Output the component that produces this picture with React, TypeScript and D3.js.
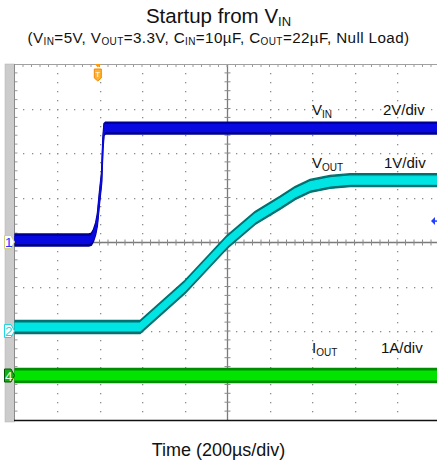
import React, { Component } from "react";
import * as d3 from "d3";

// scope capture, 200us/div, 10 x 8 divisions
const timeVin = [0, 350, 362, 372, 382, 390, 400, 410, 416, 421, 428, 2000];
const vin = [0.09, 0.09, 0.13, 0.3, 0.6, 1.0, 2.0, 2.9, 4.4, 5.05, 5.12, 5.12];
const timeVout = [0, 591, 802, 1000, 1132, 1249, 1320, 1391, 1485, 1579, 2000];
const vout = [0.09, 0.09, 0.99, 2.0, 2.54, 2.88, 3.1, 3.26, 3.35, 3.39, 3.39];
const timeIout = [0, 2000];
const iout = [0, 0];

const channels = [
	{ id: "1", t: timeVin, v: vin, perDiv: 2, offset: 0, half: 5, core: "#0808e0", edge: "#000090", tagText: "#2030ff", tagFill: "#ffffff", tagStroke: "#d0d080" },
	{ id: "2", t: timeVout, v: vout, perDiv: 1, offset: -2, half: 5.5, core: "#00e4e4", edge: "#007070", tagText: "#20d8e0", tagFill: "#ffffff", tagStroke: "#20d8e0" },
	{ id: "4", t: timeIout, v: iout, perDiv: 1, offset: -3, half: 6, core: "#00e400", edge: "#008c00", tagText: "#e8ffe8", tagFill: "#10b010", tagStroke: "#005800" },
];

const W = 437;
const H = 468;

class App extends Component {
	componentDidMount() {
		const svg = d3.select("#scope");
		svg.selectAll("*").remove();

		const x = d3.scaleLinear().domain([0, 2000]).range([14.5, 439.5]);
		const yDiv = d3.scaleLinear().domain([-4, 4]).range([420, 64]);
		const font = "'Liberation Sans', Arial, sans-serif";

		// left gray strip
		svg.append("rect").attr("x", 5).attr("y", 64).attr("width", 9.5).attr("height", 358).attr("fill", "#cccccc").attr("stroke", "#b0b0b0").attr("stroke-width", 0.5);

		const grid = svg.append("g");
		const dotColor = "#8c8c8c";
		// dotted verticals
		for (let i = 1; i < 10; i++) {
			if (i === 5) continue;
			const gx = Math.round(x(i * 200));
			for (let k = -19; k < 20; k++) {
				grid.append("rect").attr("x", gx).attr("y", Math.round(yDiv(k / 5))).attr("width", 1.3).attr("height", 1.3).attr("fill", dotColor);
			}
		}
		// dotted horizontals
		for (let j = -3; j <= 3; j++) {
			if (j === 0) continue;
			const gy = Math.round(yDiv(j));
			for (let k = 1; k < 50; k++) {
				grid.append("rect").attr("x", Math.round(x(k * 40))).attr("y", gy).attr("width", 1.3).attr("height", 1.3).attr("fill", dotColor);
			}
		}
		// center axes with minor ticks
		const cx = Math.round(x(1000)) + 0.5;
		const cy = Math.round(yDiv(0)) + 0.5;
		grid.append("line").attr("x1", 14.5).attr("x2", W).attr("y1", cy).attr("y2", cy).attr("stroke", "#7a7a7a").attr("stroke-width", 1.3);
		grid.append("line").attr("x1", cx).attr("x2", cx).attr("y1", 64).attr("y2", 420).attr("stroke", "#7a7a7a").attr("stroke-width", 1.3);
		for (let k = 1; k < 50; k++) {
			const tx = x(k * 40);
			grid.append("line").attr("x1", tx).attr("x2", tx).attr("y1", cy - 3).attr("y2", cy + 3).attr("stroke", "#8a8a8a");
			grid.append("line").attr("x1", tx).attr("x2", tx).attr("y1", 64).attr("y2", 67).attr("stroke", "#9a9a9a");
		}
		for (let k = -19; k < 20; k++) {
			const ty = yDiv(k / 5);
			grid.append("line").attr("x1", cx - 3).attr("x2", cx + 3).attr("y1", ty).attr("y2", ty).attr("stroke", "#8a8a8a");
			grid.append("line").attr("x1", 14.5).attr("x2", 17.5).attr("y1", ty).attr("y2", ty).attr("stroke", "#9a9a9a");
		}
		// borders
		grid.append("line").attr("x1", 14.5).attr("x2", W).attr("y1", 64.5).attr("y2", 64.5).attr("stroke", "#a0a0a0");
		grid.append("line").attr("x1", 14.5).attr("x2", 14.5).attr("y1", 64).attr("y2", 421).attr("stroke", "#8a8a8a");
		grid.append("line").attr("x1", 14).attr("x2", W).attr("y1", 420.5).attr("y2", 420.5).attr("stroke", "#111").attr("stroke-width", 1.6);

		// traces, drawn as vertical noise bands around each point
		svg.append("clipPath").attr("id", "plotclip").append("rect").attr("x", 14.5).attr("y", 64).attr("width", 430).attr("height", 356);
		const traces = svg.append("g").attr("clip-path", "url(#plotclip)");
		channels.forEach((ch) => {
			const pts = ch.t.map((t, i) => [t, ch.v[i]] as [number, number]);
			const yy = (d: [number, number]) => yDiv(d[1] / ch.perDiv + ch.offset);
			const band = (h: number) =>
				d3
					.area<[number, number]>()
					.x((d) => x(d[0]))
					.y0((d) => yy(d) + h)
					.y1((d) => yy(d) - h);
			traces.append("path").attr("d", band(ch.half + 1)(pts)).attr("fill", ch.edge).attr("stroke", ch.edge).attr("stroke-width", 1.4);
			traces.append("path").attr("d", band(ch.half - 1.5)(pts)).attr("fill", ch.core).attr("stroke", ch.core).attr("stroke-width", 1.2);
		});

		// channel ground tags
		channels.forEach((ch) => {
			const ty = yDiv(ch.offset);
			const g = svg.append("g").attr("transform", `translate(4.5,${ty})`);
			g.append("path").attr("d", "M0,-6.5 L6.5,-6.5 L10,0 L6.5,6.5 L0,6.5 Z").attr("fill", ch.tagFill).attr("stroke", ch.tagStroke).attr("stroke-width", 1);
			g.append("text").attr("x", 4.3).attr("y", 5).attr("text-anchor", "middle").attr("font-family", font).attr("font-size", 13.5).attr("fill", ch.tagText).text(ch.id);
		});

		// trigger position marker
		const trig = svg.append("g").attr("transform", `translate(${x(392)},64)`);
		trig.append("path").attr("d", "M-3,0 L3,0 L0,3.5 Z").attr("fill", "#ff9a00");
		trig.append("path").attr("d", "M-3.5,5 L3.5,5 L3.5,14 L0,17 L-3.5,14 Z").attr("fill", "#ffb030").attr("stroke", "#f08a00").attr("stroke-width", 1);
		trig.append("text").attr("x", 0).attr("y", 13).attr("text-anchor", "middle").attr("font-family", font).attr("font-size", 8).attr("fill", "#fff").text("T");

		// trigger level marker
		const lvl = svg.append("g").attr("transform", `translate(433,${yDiv(0.47)})`);
		lvl.append("path").attr("d", "M-2,0 L2,-4 L2,4 Z").attr("fill", "#2040ff");
		lvl.append("line").attr("x1", -1).attr("x2", 5).attr("y1", 0).attr("y2", 0).attr("stroke", "#2040ff").attr("stroke-width", 1.5);

		// labels inside the plot
		const labels = [
			{ main: "V", sub: "IN", y: 115, scale: "2V/div", sx: 383 },
			{ main: "V", sub: "OUT", y: 168, scale: "1V/div", sx: 384 },
			{ main: "I", sub: "OUT", y: 353, scale: "1A/div", sx: 381 },
		];
		labels.forEach((l) => {
			const t = svg.append("text").attr("x", 312).attr("y", l.y).attr("font-family", font).attr("font-size", 15).attr("fill", "#111");
			t.append("tspan").text(l.main);
			t.append("tspan").attr("font-size", 10).attr("dy", 3).text(l.sub);
			svg.append("text").attr("x", l.sx).attr("y", l.y).attr("font-family", font).attr("font-size", 15).attr("fill", "#111").text(l.scale);
		});

		// titles
		const title = svg.append("text").attr("x", W / 2).attr("y", 23).attr("text-anchor", "middle").attr("font-family", font).attr("font-size", 20.5).attr("fill", "#111");
		title.append("tspan").text("Startup from V");
		title.append("tspan").attr("font-size", 13).attr("dy", 3).text("IN");

		const sub = svg.append("text").attr("x", W / 2).attr("y", 43).attr("text-anchor", "middle").attr("font-family", font).attr("font-size", 15.2).attr("letter-spacing", 0.4).attr("fill", "#111");
		const parts: [string, string][] = [
			["(V", ""],
			["", "IN"],
			["=5V, V", ""],
			["", "OUT"],
			["=3.3V, C", ""],
			["", "IN"],
			["=10µF, C", ""],
			["", "OUT"],
			["=22µF, Null Load)", ""],
		];
		let down = false;
		parts.forEach(([m, s]) => {
			if (m) {
				sub.append("tspan").attr("dy", down ? -2 : 0).text(m);
				down = false;
			} else {
				sub.append("tspan").attr("font-size", 10).attr("dy", down ? 0 : 2).text(s);
				down = true;
			}
		});

		svg.append("text").attr("x", W / 2).attr("y", 456).attr("text-anchor", "middle").attr("font-family", font).attr("font-size", 18).attr("fill", "#111").text("Time (200µs/div)");
	}

	render() {
		return (
			<svg
				id="scope"
				width={W}
				height={H}
				style={{ position: "absolute", left: 0, top: 0, background: "#fff" }}
			></svg>
		);
	}
}

export default App;
